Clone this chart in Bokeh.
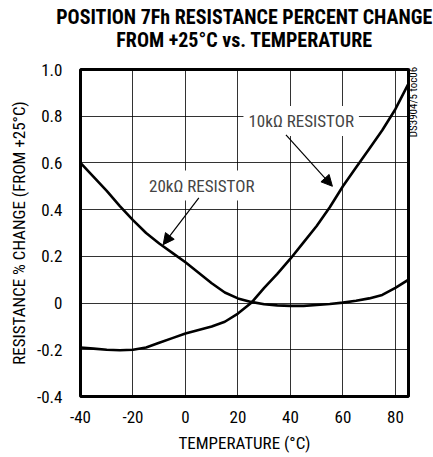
import math
from bokeh.plotting import figure
from bokeh.models import (FixedTicker, Label, Arrow, NormalHead, Range1d,
                          Title, LinearAxis)
from bokeh.embed import file_html
from bokeh.resources import INLINE

# ---- data ----
temps = [-40, -35, -30, -25, -20, -15, -10, -5, 0, 5, 10, 15, 20, 25, 30,
         35, 40, 45, 50, 55, 60, 65, 70, 75, 80, 85]
r10k = [-0.19, -0.195, -0.2, -0.202, -0.2, -0.19, -0.17, -0.15, -0.13, -0.115,
        -0.1, -0.08, -0.045, 0.0, 0.065, 0.125, 0.19, 0.26, 0.33, 0.41, 0.50,
        0.58, 0.66, 0.74, 0.83, 0.94]
r20k = [0.6, 0.54, 0.48, 0.415, 0.355, 0.30, 0.255, 0.215, 0.175, 0.13, 0.085,
        0.045, 0.02, 0.005, -0.005, -0.01, -0.012, -0.012, -0.008, -0.004,
        0.002, 0.01, 0.02, 0.035, 0.065, 0.1]
x_ticks = [-40, -20, 0, 20, 40, 60, 80]
x_tick_labels = ["-40", "-20", "0", "20", "40", "60", "80"]
y_ticks = [-0.4, -0.2, 0, 0.2, 0.4, 0.6, 0.8, 1.0]
y_tick_labels = ["-0.4", "-0.2", "0", "0.2", "0.4", "0.6", "0.8", "1.0"]
title_lines = ["POSITION 7Fh RESISTANCE PERCENT CHANGE",
               "FROM +25°C vs. TEMPERATURE"]
code_text = "DS3904/5 toc06"

FONT = "Roboto Condensed"

p = figure(width=433, height=457, output_backend="svg", toolbar_location=None,
           x_range=Range1d(-40, 85), y_range=Range1d(-0.4, 1.0),
           min_border_left=80, min_border_right=25, min_border_top=69,
           min_border_bottom=61)
p.title = None

# two centred title lines (first added sits closest to the frame)
p.add_layout(Title(text=title_lines[1], align="center", text_font=FONT,
                   text_font_size="20px", text_font_style="bold",
                   text_color="black", standoff=36), "above")
p.add_layout(Title(text=title_lines[0], align="center", text_font=FONT,
                   text_font_size="20px", text_font_style="bold",
                   text_color="black", standoff=-42), "above")

p.outline_line_color = "black"
p.outline_line_width = 3
p.outline_line_alpha = 1

p.xaxis.ticker = FixedTicker(ticks=x_ticks)
p.yaxis.ticker = FixedTicker(ticks=y_ticks)
p.xaxis.major_label_overrides = {t: l for t, l in zip(x_ticks, x_tick_labels)}
p.yaxis.major_label_overrides = {t: l for t, l in zip(y_ticks, y_tick_labels)}
for ax in (p.xaxis, p.yaxis):
    ax.axis_line_color = None
    ax.major_tick_line_color = None
    ax.minor_tick_line_color = None
    ax.major_label_text_font = FONT
    ax.major_label_text_font_size = "17px"
    ax.major_label_text_color = "black"
    ax.axis_label_text_font = FONT
    ax.axis_label_text_font_size = "17px"
    ax.axis_label_text_font_style = "normal"
    ax.axis_label_text_color = "black"
p.xaxis.axis_label = "TEMPERATURE (°C)"
p.yaxis.axis_label = "RESISTANCE % CHANGE (FROM +25°C)"
p.xaxis.major_label_standoff = 8
p.yaxis.major_label_standoff = 12
p.xaxis.axis_label_standoff = 7
p.yaxis.axis_label_standoff = 5

# small figure code on the right edge, as a single rotated tick label
code_axis = LinearAxis(ticker=FixedTicker(ticks=[0.71]),
                       major_label_overrides={0.71: code_text},
                       major_label_orientation=math.pi / 2,
                       major_label_text_font=FONT,
                       major_label_text_font_size="11px",
                       major_label_text_color="black",
                       major_label_standoff=-1,
                       axis_line_color=None, major_tick_line_color=None,
                       minor_tick_line_color=None)
p.add_layout(code_axis, "right")

p.grid.grid_line_color = "black"
p.grid.grid_line_width = 1
p.grid.grid_line_alpha = 0.8

p.line(temps, r10k, line_color="black", line_width=2.6)
p.line(temps, r20k, line_color="black", line_width=2.6)

# annotations
p.add_layout(Label(x=6.2, y=0.503, text="20kΩ RESISTOR", text_font=FONT,
                   text_font_size="17px", text_align="center",
                   text_baseline="middle", background_fill_color="white",
                   padding=5))
p.add_layout(Arrow(x_start=5.1, y_start=0.45, x_end=-8.5, y_end=0.25,
                   line_width=1.2, line_color="black",
                   end=NormalHead(size=11, fill_color="black", line_color="black")))
p.add_layout(Label(x=44.1, y=0.78, text="10kΩ RESISTOR", text_font=FONT,
                   text_font_size="17px", text_align="center",
                   text_baseline="middle", background_fill_color="white",
                   padding=5))
p.add_layout(Arrow(x_start=38.3, y_start=0.72, x_end=56.0, y_end=0.50,
                   line_width=1.2, line_color="black",
                   end=NormalHead(size=11, fill_color="black", line_color="black")))

open("out.html", "w").write(file_html(p, INLINE))
